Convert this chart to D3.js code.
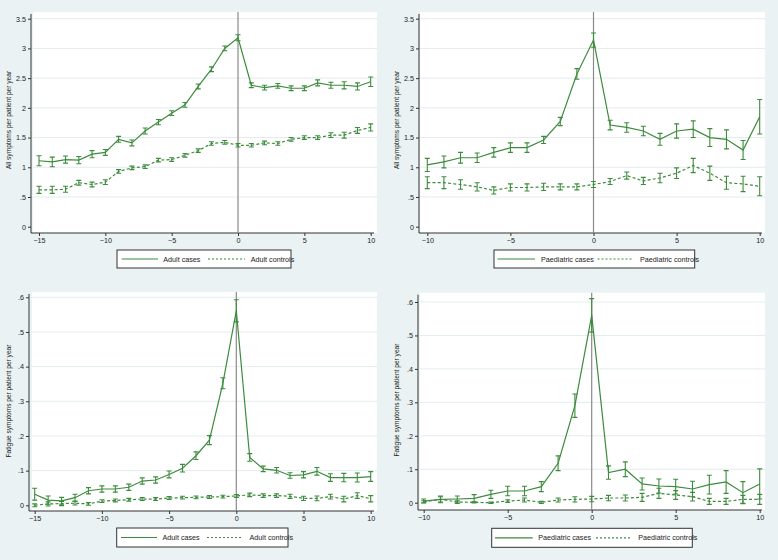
<!DOCTYPE html>
<html><head><meta charset="utf-8">
<script src="https://cdn.jsdelivr.net/npm/d3@7"></script>
<style>body{margin:0;background:#eaf2f3}svg{display:block}</style>
</head><body>
<svg id="c" width="778" height="560"></svg>
<script>
// ---------- DATA ----------
const adultYears = d3.range(-15, 11);
const paedYears = d3.range(-10, 11);

const adultAllCases =    [1.11,1.09,1.13,1.12,1.22,1.25,1.47,1.41,1.61,1.76,1.91,2.05,2.36,2.65,3.00,3.18,2.38,2.34,2.37,2.33,2.33,2.42,2.38,2.38,2.36,2.44];
const adultAllCasesErr = [0.085,0.08,0.06,0.06,0.06,0.05,0.05,0.05,0.05,0.045,0.04,0.04,0.04,0.04,0.04,0.05,0.04,0.04,0.04,0.04,0.04,0.05,0.05,0.06,0.06,0.08];
const adultAllCtrl =     [0.62,0.62,0.63,0.74,0.71,0.75,0.93,0.99,1.01,1.12,1.13,1.20,1.28,1.40,1.42,1.37,1.37,1.41,1.40,1.47,1.50,1.50,1.54,1.54,1.62,1.67];
const adultAllCtrlErr =  [0.06,0.06,0.05,0.04,0.04,0.04,0.03,0.03,0.03,0.03,0.03,0.03,0.03,0.03,0.03,0.03,0.03,0.03,0.03,0.03,0.03,0.03,0.04,0.05,0.05,0.06];

const paedAllCases =     [1.04,1.09,1.16,1.16,1.25,1.33,1.33,1.46,1.77,2.57,3.14,1.71,1.67,1.61,1.47,1.61,1.64,1.50,1.47,1.29,1.85];
const paedAllCasesErr =  [0.11,0.10,0.09,0.08,0.08,0.08,0.08,0.06,0.07,0.09,0.12,0.08,0.08,0.08,0.10,0.12,0.14,0.15,0.16,0.16,0.29];
const paedAllCtrl =      [0.74,0.74,0.71,0.67,0.61,0.66,0.66,0.67,0.67,0.67,0.71,0.76,0.86,0.77,0.82,0.90,1.03,0.90,0.74,0.72,0.68];
const paedAllCtrlErr =   [0.10,0.10,0.08,0.07,0.06,0.06,0.06,0.06,0.05,0.05,0.05,0.05,0.06,0.06,0.08,0.09,0.12,0.12,0.11,0.13,0.16];

const adultFatCases =    [0.032,0.015,0.013,0.022,0.042,0.047,0.047,0.052,0.070,0.073,0.089,0.107,0.143,0.188,0.352,0.561,0.138,0.105,0.101,0.086,0.088,0.098,0.080,0.080,0.080,0.083];
const adultFatCasesErr = [0.017,0.012,0.010,0.010,0.009,0.009,0.009,0.009,0.009,0.009,0.010,0.011,0.011,0.013,0.016,0.032,0.011,0.008,0.008,0.008,0.009,0.011,0.011,0.012,0.013,0.014];
const adultFatCtrl =     [0.000,0.004,0.005,0.006,0.004,0.012,0.014,0.016,0.018,0.018,0.021,0.022,0.023,0.024,0.025,0.027,0.030,0.028,0.028,0.026,0.020,0.020,0.025,0.018,0.028,0.019];
const adultFatCtrlErr =  [0.004,0.006,0.006,0.005,0.004,0.004,0.004,0.004,0.004,0.004,0.004,0.004,0.004,0.004,0.004,0.004,0.005,0.005,0.005,0.006,0.006,0.007,0.007,0.008,0.008,0.009];

const paedFatCases =     [0.005,0.010,0.011,0.013,0.025,0.035,0.035,0.048,0.118,0.290,0.560,0.090,0.100,0.056,0.050,0.048,0.041,0.054,0.062,0.030,0.056];
const paedFatCasesErr =  [0.006,0.010,0.009,0.011,0.012,0.014,0.014,0.015,0.022,0.035,0.050,0.020,0.022,0.018,0.021,0.022,0.023,0.028,0.034,0.033,0.045];
const paedFatCtrl =      [0.003,0.010,0.002,0.001,0.000,0.005,0.008,0.001,0.008,0.010,0.011,0.014,0.014,0.016,0.028,0.023,0.018,0.004,0.004,0.010,0.010];
const paedFatCtrlErr =   [0.003,0.008,0.004,0.002,0.002,0.004,0.006,0.003,0.006,0.008,0.008,0.008,0.009,0.012,0.015,0.013,0.013,0.009,0.009,0.012,0.015];

const allTicks = [0,0.5,1,1.5,2,2.5,3,3.5];
const allTickLabels = ["0",".5","1","1.5","2","2.5","3","3.5"];
const fatTicks = [0,0.1,0.2,0.3,0.4,0.5,0.6];
const fatTickLabels = ["0",".1",".2",".3",".4",".5",".6"];
const adultXTicks = [-15,-10,-5,0,5,10];
const paedXTicks = [-10,-5,0,5,10];

const yTitleAll = "All symptoms per patient per year";
const yTitleFat = "Fatigue symptoms per patient per year";

// ---------- LAYOUT ----------
const panels = [
  {years: adultYears, cases: adultAllCases, casesErr: adultAllCasesErr, ctrl: adultAllCtrl, ctrlErr: adultAllCtrlErr,
   xt: adultXTicks, yt: allTicks, ytl: allTickLabels, ymax: 3.5, title: yTitleAll, lc: "Adult cases", lk: "Adult controls",
   xr: [39, 370.7], yr: [226.7, 18.7], rect: [33, 12, 377, 233], axX: 31, axY: 233, titleX: 11, titleY: 120,
   leg: [117, 250, 291, 268], legP: [121.7, 158, 163.3, 208, 245, 250.7]},
  {years: paedYears, cases: paedAllCases, casesErr: paedAllCasesErr, ctrl: paedAllCtrl, ctrlErr: paedAllCtrlErr,
   xt: paedXTicks, yt: allTicks, ytl: allTickLabels, ymax: 3.5, title: yTitleAll, lc: "Paediatric cases", lk: "Paediatric controls",
   xr: [427.3, 759.7], yr: [226.7, 18.7], rect: [420, 12, 765, 233], axX: 419, axY: 233, titleX: 399, titleY: 120,
   leg: [494, 250, 694.7, 268], legP: [497.5, 535, 541, 597.5, 633, 640]},
  {years: adultYears, cases: adultFatCases, casesErr: adultFatCasesErr, ctrl: adultFatCtrl, ctrlErr: adultFatCtrlErr,
   xt: adultXTicks, yt: fatTicks, ytl: fatTickLabels, ymax: 0.6, title: yTitleFat, lc: "Adult cases", lk: "Adult controls",
   xr: [34.7, 370.7], yr: [505.3, 297.3], rect: [32, 292, 377, 511], axX: 29, axY: 511, titleX: 11, titleY: 401,
   leg: [116.7, 528, 288, 547], legP: [121, 157, 162.5, 207, 243, 249.5]},
  {years: paedYears, cases: paedFatCases, casesErr: paedFatCasesErr, ctrl: paedFatCtrl, ctrlErr: paedFatCtrlErr,
   xt: paedXTicks, yt: fatTicks, ytl: fatTickLabels, ymax: 0.6, title: yTitleFat, lc: "Paediatric cases", lk: "Paediatric controls",
   xr: [423.7, 759.7], yr: [502.7, 302], rect: [419.7, 292.7, 765, 510], axX: 418, axY: 510, titleX: 399, titleY: 400,
   leg: [491.7, 528.3, 692.3, 547.3], legP: [495, 532.7, 538.3, 596, 631.7, 638.3]}
];

const green = "#3d8b3d";
const font = "'Liberation Sans', Arial, sans-serif";
const svg = d3.select("#c");
svg.append("rect").attr("width", 778).attr("height", 560).attr("fill", "#eaf2f3");

panels.forEach((p, pi) => {
  const g = svg.append("g");
  const x = d3.scaleLinear().domain([p.years[0], 10]).range(p.xr);
  const y = d3.scaleLinear().domain([0, p.ymax]).range(p.yr);
  const [rx0, ry0, rx1, ry1] = p.rect;
  g.append("rect").attr("x", rx0).attr("y", ry0).attr("width", rx1 - rx0).attr("height", ry1 - ry0).attr("fill", "#fff");
  // gridlines
  g.selectAll(".grid").data(p.yt.slice(1)).enter().append("line")
    .attr("x1", rx0).attr("x2", rx1).attr("y1", d => y(d)).attr("y2", d => y(d))
    .attr("stroke", "#e3ecee").attr("stroke-width", 1);
  // y axis
  const yAxis = d3.axisLeft(y).tickValues(p.yt).tickFormat((d, i) => p.ytl[i]).tickSize(3).tickPadding(2);
  const ya = g.append("g").attr("transform", `translate(${p.axX},0)`).call(yAxis);
  ya.select(".domain").attr("d", `M0,${ry0 + 2}V${p.axY}`).attr("stroke", "#333");
  // x axis
  const xAxis = d3.axisBottom(x).tickValues(p.xt).tickSize(3).tickPadding(2).tickFormat(d3.format("d"));
  const xa = g.append("g").attr("transform", `translate(0,${p.axY})`).call(xAxis);
  xa.select(".domain").attr("d", `M${p.axX},0H${rx1 - 3}`).attr("stroke", "#333");
  [ya, xa].forEach(a => {
    a.selectAll("text").attr("font-family", font).attr("font-size", 7.2).attr("fill", "#222");
    a.selectAll(".tick line").attr("stroke", "#333");
  });
  // y title
  g.append("text").attr("transform", `translate(${p.titleX},${p.titleY}) rotate(-90)`)
    .attr("text-anchor", "middle").attr("font-family", font).attr("font-size", 6.6).attr("fill", "#222")
    .text(p.title);
  // vertical line at 0
  g.append("line").attr("x1", x(0)).attr("x2", x(0)).attr("y1", ry0).attr("y2", p.axY)
    .attr("stroke", "#8a8a8a").attr("stroke-width", 1.2);
  // series
  const series = [
    {v: p.ctrl, e: p.ctrlErr, dash: "3,2.2"},
    {v: p.cases, e: p.casesErr, dash: null}
  ];
  series.forEach(s => {
    const pts = p.years.map((yr, i) => ({x: yr, v: s.v[i], e: s.e[i]}));
    const line = d3.line().x(d => x(d.x)).y(d => y(d.v));
    g.append("path").datum(pts).attr("d", line).attr("fill", "none").attr("stroke", green)
      .attr("stroke-width", 1.2).attr("stroke-dasharray", s.dash);
    const eb = g.append("g").attr("stroke", green).attr("stroke-width", 1.1).attr("fill", "none");
    pts.forEach(d => {
      const cx = x(d.x), lo = y(d.v - d.e), hi = y(d.v + d.e);
      eb.append("path").attr("d", `M${cx - 2.5},${hi}H${cx + 2.5}M${cx},${hi}V${lo}M${cx - 2.5},${lo}H${cx + 2.5}`);
    });
  });
  // legend
  const [lx0, ly0, lx1, ly1] = p.leg;
  const lg = g.append("g");
  lg.append("rect").attr("x", lx0).attr("y", ly0).attr("width", lx1 - lx0).attr("height", ly1 - ly0)
    .attr("fill", "#fff").attr("stroke", "#333").attr("stroke-width", 1);
  const ly = (ly0 + ly1) / 2;
  const lp = p.legP;
  lg.append("line").attr("x1", lp[0]).attr("x2", lp[1]).attr("y1", ly).attr("y2", ly)
    .attr("stroke", green).attr("stroke-width", 1.2);
  lg.append("text").attr("x", lp[2]).attr("y", ly + 2.6).attr("font-family", font).attr("font-size", 7.2)
    .attr("fill", "#222").text(p.lc);
  lg.append("line").attr("x1", lp[3]).attr("x2", lp[4]).attr("y1", ly).attr("y2", ly)
    .attr("stroke", green).attr("stroke-width", 1.2).attr("stroke-dasharray", "2,2");
  lg.append("text").attr("x", lp[5]).attr("y", ly + 2.6).attr("font-family", font).attr("font-size", 7.2)
    .attr("fill", "#222").text(p.lk);
});
</script>
</body></html>
